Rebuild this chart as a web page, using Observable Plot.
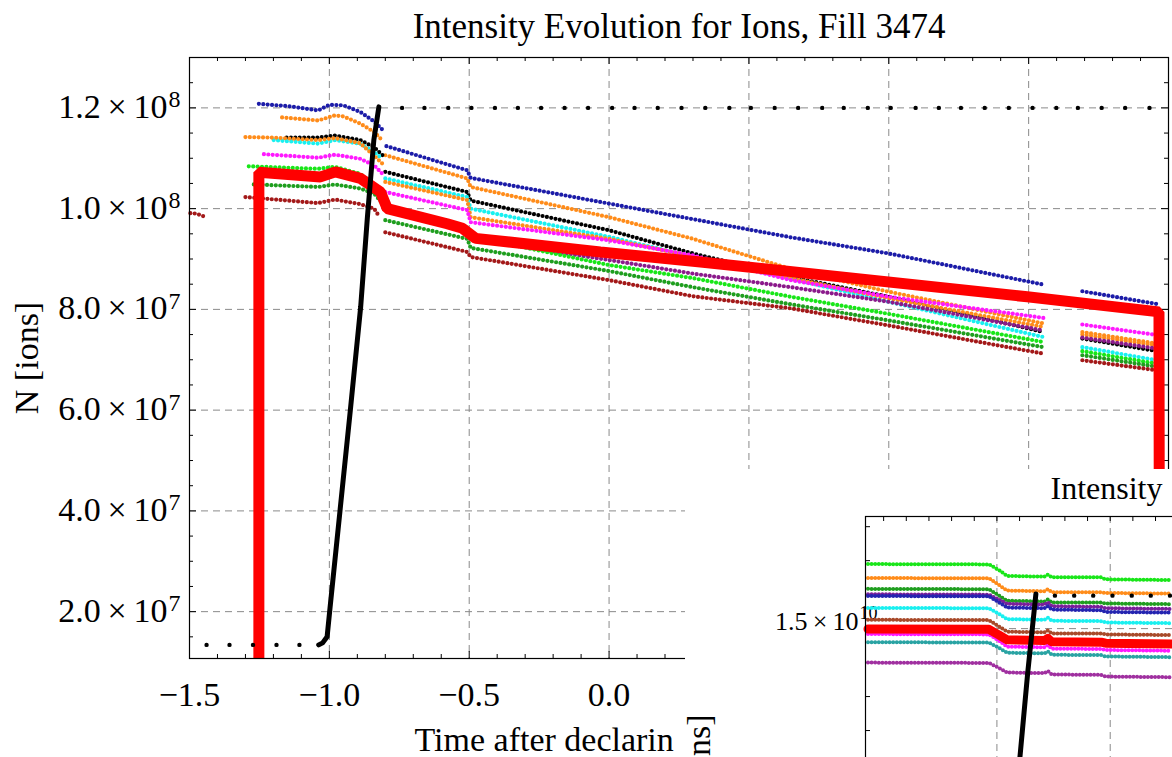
<!DOCTYPE html>
<html><head><meta charset="utf-8">
<script src="https://cdn.jsdelivr.net/npm/d3@7"></script>
<script src="https://cdn.jsdelivr.net/npm/@observablehq/plot@0.6"></script>
<style>
html,body{margin:0;padding:0;background:#fff;overflow:hidden;}
#wrap{position:relative;width:1172px;height:757px;overflow:hidden;background:#fff;}
#main{position:absolute;left:0;top:0;}
#panel{position:absolute;left:685px;top:469px;width:487px;height:288px;background:#fff;overflow:visible;}
#wrap svg{max-width:none !important;}
#panel svg{overflow:visible;}
</style></head><body>
<div id="wrap"><div id="main"></div><div id="panel"></div></div>
<script>
// ---------- MAIN CHART DATA (x: hours, y: ions in units of 1e7) ----------
const title = "Intensity Evolution for Ions, Fill 3474";
const yLabel = "N [ions]";
const xLabel = "Time after declarin";

const xLabelTicks = [-1.5, -1.0, -0.5, 0.0];
const xLabelText = ["\u22121.5", "\u22121.0", "\u22120.5", "0.0"];
const xMajor = [-1.5, -1.0, -0.5, 0.0, 0.5, 1.0, 1.5, 2.0];
const xMinor = [-1.4,-1.3,-1.2,-1.1,-0.9,-0.8,-0.7,-0.6,-0.4,-0.3,-0.2,-0.1,0.1,0.2,0.3,0.4,0.6,0.7,0.8,0.9,1.1,1.2,1.3,1.4,1.6,1.7,1.8,1.9];
const xGrid = [-1.0, -0.5, 0.0, 0.5, 1.0, 1.5];
const yMajor = [2, 4, 6, 8, 10, 12];
const yMinor = [1.5,2.5,3,3.5,4.5,5,5.5,6.5,7,7.5,8.5,9,9.5,10.5,11,11.5,12.5];
const yTickBase = ["2.0\u2009\u00d7\u200910","4.0\u2009\u00d7\u200910","6.0\u2009\u00d7\u200910","8.0\u2009\u00d7\u200910","1.0\u2009\u00d7\u200910","1.2\u2009\u00d7\u200910"];
const yTickExp = ["7","7","7","7","8","8"];

const blue = [[-1.252,12.08],[-1.14,12.03],[-1.04,11.95],[-1.0,12.06],[-0.95,12.05],[-0.89,11.92],[-0.84,11.73],[-0.807,11.55],null,[-0.796,11.24],[-0.507,10.76],[-0.495,10.61],[0.0,10.10],[0.32,9.77],[0.65,9.43],[1.0,9.11],[1.554,8.49],null,[1.692,8.36],[1.966,8.10]];
const orange1 = [[-1.169,11.81],[-1.04,11.75],[-0.98,11.85],[-0.95,11.83],[-0.89,11.69],[-0.84,11.52],[-0.817,11.39],null,[-0.80,11.06],[-0.507,10.60],[-0.495,10.43],[0.0,9.83],[0.3,9.40],[0.65,8.80],[1.0,8.35],[1.554,7.72],null,[1.692,7.55],[1.96,7.32]];
const blackDots = [[-1.153,11.41],[-1.04,11.41],[-0.98,11.45],[-0.89,11.36],[-0.84,11.22],[-0.81,11.06],null,[-0.80,10.73],[-0.507,10.33],[-0.495,10.16],[0.0,9.57],[0.3,9.11],[0.65,8.64],[1.0,8.25],[1.554,7.55],null,[1.692,7.42],[1.96,7.17]];
const cyan = [[-1.199,11.36],[-1.04,11.29],[-0.98,11.36],[-0.89,11.29],[-0.84,11.12],[-0.81,10.99],null,[-0.80,10.60],[-0.507,10.23],[-0.495,10.00],[0.0,9.44],[0.3,9.04],[0.65,8.61],[1.0,8.15],[1.554,7.45],null,[1.692,7.25],[1.96,6.99]];
const orange2 = [[-1.30,11.42],[-1.2,11.41],[-1.04,11.36],[-0.98,11.40],[-0.89,11.30],[-0.84,11.05],[-0.81,10.89],null,[-0.80,10.53],[-0.507,10.17],[-0.495,9.83],[0.0,9.40],[0.3,9.05],[0.65,8.62],[1.0,8.22],[1.554,7.65],null,[1.692,7.50],[1.96,7.28]];
const magenta = [[-1.234,11.08],[-1.04,11.01],[-0.98,11.07],[-0.89,10.99],[-0.84,10.86],[-0.81,10.69],null,[-0.80,10.33],[-0.507,9.97],[-0.495,9.73],[0.0,9.37],[0.3,9.07],[0.65,8.58],[1.0,8.25],[1.554,7.83],null,[1.692,7.70],[1.96,7.49]];
const purple = [[-0.495,9.40],[0.0,8.98],[0.3,8.71],[0.65,8.44],[1.0,8.15],[1.554,7.58],null,[1.692,7.44],[1.96,7.22]];
const lime = [[-1.288,10.84],[-1.04,10.79],[-0.98,10.83],[-0.89,10.69],[-0.84,10.45],[-0.81,10.30],null,[-0.80,10.0],[-0.507,9.62],[-0.495,9.45],[0.0,8.88],[0.3,8.62],[0.65,8.25],[1.0,7.91],[1.554,7.35],null,[1.692,7.17],[1.96,6.92]];
const dkgreen = [[-1.27,10.48],[-1.04,10.43],[-0.98,10.48],[-0.89,10.40],[-0.84,10.30],[-0.81,10.10],null,[-0.80,9.77],[-0.507,9.40],[-0.495,9.22],[0.0,8.76],[0.3,8.44],[0.65,8.10],[1.0,7.78],[1.554,7.25],null,[1.692,7.09],[1.96,6.86]];
const darkred = [[-1.497,9.91],[-1.475,9.90],[-1.445,9.84],null,[-1.30,10.23],[-1.04,10.11],[-0.98,10.18],[-0.89,10.09],[-0.84,10.0],[-0.82,9.83],null,[-0.80,9.53],[-0.507,9.14],[-0.495,9.04],[0.0,8.58],[0.3,8.26],[0.65,8.02],[1.0,7.68],[1.554,7.12],null,[1.692,6.99],[1.96,6.79]];
const redLine = [[-1.252,0.0],[-1.252,10.72],[-1.032,10.63],[-0.978,10.73],[-0.889,10.60],[-0.817,10.33],[-0.793,10.0],[-0.579,9.70],[-0.524,9.61],[-0.477,9.41],[-0.031,9.14],[0.327,8.94],[1.495,8.25],[1.966,7.95],[1.968,0.0]];
const ramp = [[-1.038,1.34],[-1.024,1.38],[-1.008,1.50],[-0.999,2.0],[-0.962,4.0],[-0.925,6.0],[-0.888,8.05],[-0.864,9.83],[-0.841,11.36],[-0.823,12.02]];
const lowDotsX = [-1.439,-1.357,-1.273,-1.189,-1.107];
const lowDotsY = [1.34,1.34,1.34,1.34,1.34];
const topDotsX = [-0.740,-0.660,-0.575,-0.492,-0.408,-0.326,-0.243,-0.159,-0.075,0.011,0.091,0.174,0.259,0.344,0.430,0.507,0.592,0.676,0.762,0.839,0.925,1.007,1.096,1.179,1.258,1.343,1.429,1.514,1.599,1.676,1.761,1.845,1.932];
const topDotsY = 12.0;

// ---------- INSET DATA (x: hours, y: units of 1e10) ----------
const insetTitle = "Intensity";
const insetYLabel = "ns]";
const insetX = [-1.569,-1.035,-0.99,-0.955,-0.79,-0.775,-0.758,-0.54,-0.52,-0.228];
const inLime    = [1.690,1.689,1.672,1.655,1.653,1.659,1.651,1.651,1.645,1.643];
const inOrange  = [1.649,1.648,1.628,1.612,1.610,1.616,1.607,1.607,1.605,1.603];
const inDkGreen = [1.617,1.616,1.597,1.582,1.580,1.586,1.577,1.577,1.574,1.572];
const inPurple2 = [1.601,1.600,1.585,1.573,1.571,1.577,1.566,1.564,1.560,1.558];
const inBlue    = [1.596,1.595,1.577,1.562,1.560,1.566,1.556,1.554,1.549,1.547];
const inCyan    = [1.561,1.560,1.543,1.528,1.526,1.532,1.523,1.522,1.518,1.516];
const inBrown   = [1.526,1.525,1.506,1.491,1.489,1.495,1.486,1.486,1.483,1.481];
const inRed     = [1.499,1.498,1.481,1.467,1.465,1.471,1.461,1.460,1.457,1.455];
const inMagenta = [1.484,1.483,1.464,1.447,1.445,1.451,1.441,1.440,1.437,1.435];
const inTeal    = [1.460,1.459,1.443,1.429,1.427,1.433,1.423,1.422,1.418,1.416];
const inPurpleL = [1.400,1.399,1.384,1.371,1.369,1.375,1.365,1.364,1.359,1.357];
const inRamp = [[-0.905,1.02],[-0.8985,1.121],[-0.8645,1.367],[-0.828,1.602]];
const inDotsX = [-0.744,-0.659,-0.575,-0.490,-0.405,-0.321,-0.236];
const inDotsY = 1.597;
const inXTicks = [-1.5,-1.4,-1.3,-1.2,-1.1,-1.0,-0.9,-0.8,-0.7,-0.6,-0.5,-0.4,-0.3,-0.2,-0.1];
const inXGrid = [-1.0,-0.5];
const inYTicks = [1.1,1.2,1.3,1.4,1.5,1.6,1.7,1.8];
const inYGrid = [1.5];
const inYLabelBase = ["1.5\u2009\u00d7\u200910"];
const inYLabelExp = ["10"];
const inYLabelAt = [1.5];

// ---------- RENDER ----------
const F = '"Liberation Serif","Times New Roman",Times,serif';
const W = 1172, H = 757, mL = 189, mT = 57, mR = 4, mB = 99;
const fW = W - mL - mR, fH = H - mT - mB;
const px = d => d ? d[0] : NaN, py = d => d ? d[1] : NaN;
const dotted = (data, color) => Plot.line(data, {x: px, y: py, stroke: color, strokeWidth: 4.2, strokeDasharray: "0 4.4", strokeLinecap: "round", strokeLinejoin: "round"});
const grid = {stroke: "#8a8a8a", strokeWidth: 1, strokeDasharray: "7,5"};

const main = Plot.plot({
  width: W, height: H, marginLeft: mL, marginTop: mT, marginRight: mR, marginBottom: mB,
  style: {background: "white", fontFamily: F, maxWidth: "none"},
  x: {domain: [-1.5, 2.0], axis: null},
  y: {domain: [1.07, 13.0], axis: null},
  marks: [
    Plot.ruleX(xGrid, {x: d => d, ...grid}),
    Plot.ruleY(yMajor, {y: d => d, ...grid}),
    Plot.ruleX(xMajor, {x: d => d, insetTop: fH - 7, stroke: "black"}),
    Plot.ruleX(xMajor, {x: d => d, insetBottom: fH - 7, stroke: "black"}),
    Plot.ruleX(xMinor, {x: d => d, insetTop: fH - 4, stroke: "black"}),
    Plot.ruleX(xMinor, {x: d => d, insetBottom: fH - 4, stroke: "black"}),
    Plot.ruleY(yMajor, {y: d => d, insetRight: fW - 7, stroke: "black"}),
    Plot.ruleY(yMajor, {y: d => d, insetLeft: fW - 7, stroke: "black"}),
    Plot.ruleY(yMinor, {y: d => d, insetRight: fW - 4, stroke: "black"}),
    Plot.ruleY(yMinor, {y: d => d, insetLeft: fW - 4, stroke: "black"}),
    dotted(blue, "#1c1ca8"),
    dotted(orange1, "#ff8c1a"),
    dotted(blackDots, "#000000"),
    dotted(cyan, "#19f0f0"),
    dotted(orange2, "#ff8c1a"),
    dotted(magenta, "#ff19ff"),
    dotted(purple, "#8b1a8b"),
    dotted(lime, "#19e619"),
    dotted(dkgreen, "#1f9e1f"),
    dotted(darkred, "#a31919"),
    Plot.line(redLine, {x: px, y: py, stroke: "#ff0000", strokeWidth: 11, strokeLinejoin: "miter", strokeLinecap: "butt", clip: true}),
    Plot.line(ramp, {x: px, y: py, stroke: "#000", strokeWidth: 5, strokeLinecap: "round"}),
    Plot.dot(lowDotsX, {x: d => d, y: (d, i) => lowDotsY[i], r: 2.2, fill: "#000", stroke: null}),
    Plot.dot(topDotsX, {x: d => d, y: () => topDotsY, r: 2.2, fill: "#000", stroke: null}),
    Plot.frame({stroke: "black", strokeWidth: 1.2}),
    Plot.text([title], {text: d => d, frameAnchor: "top", dy: -20, lineAnchor: "bottom", fontSize: 35, fontFamily: F, fill: "black"}),
    Plot.text(yMajor, {y: d => d, text: (d, i) => yTickBase[i], frameAnchor: "left", textAnchor: "end", lineAnchor: "bottom", dx: -22, dy: 10, fontSize: 34, fontFamily: F, fill: "black"}),
    Plot.text(yMajor, {y: d => d, text: (d, i) => yTickExp[i], frameAnchor: "left", textAnchor: "start", lineAnchor: "bottom", dx: -21, dy: -0.5, fontSize: 24, fontFamily: F, fill: "black"}),
    Plot.text(xLabelTicks, {x: d => d, text: (d, i) => xLabelText[i], frameAnchor: "bottom", textAnchor: "middle", lineAnchor: "bottom", dy: 47, fontSize: 34, fontFamily: F, fill: "black"}),
    Plot.text([xLabel], {text: d => d, frameAnchor: "bottom-left", textAnchor: "start", lineAnchor: "bottom", dx: 225, dy: 92, fontSize: 34, fontFamily: F, fill: "black"}),
    Plot.text([yLabel], {text: d => d, frameAnchor: "left", rotate: -90, textAnchor: "middle", lineAnchor: "bottom", dx: 37 - mL, fontSize: 34, fontFamily: F, fill: "black"})
  ]
});
document.getElementById("main").appendChild(main);

// ---------- INSET ----------
const iW = 600, iH = 340, iL = 180, iT = 47, iR = 62, iB = 11;
const ifW = iW - iL - iR, ifH = iH - iT - iB;
const rows = ys => insetX.map((x, i) => [x, ys[i]]);
const idot = (ys, color) => Plot.line(rows(ys), {x: px, y: py, stroke: color, strokeWidth: 4, strokeDasharray: "0 3.6", strokeLinecap: "round"});
const inset = Plot.plot({
  width: iW, height: iH, marginLeft: iL, marginTop: iT, marginRight: iR, marginBottom: iB,
  style: {background: "white", fontFamily: F, maxWidth: "none", overflow: "visible"},
  x: {domain: [-1.58, 0.0], axis: null},
  y: {domain: [1.0, 1.83], axis: null},
  marks: [
    Plot.ruleX(inXGrid, {x: d => d, ...grid}),
    Plot.ruleY(inYGrid, {y: d => d, ...grid}),
    Plot.ruleX(inXTicks, {x: d => d, insetBottom: ifH - 5, stroke: "black"}),
    Plot.ruleY(inYTicks, {y: d => d, insetRight: ifW - 5, stroke: "black"}),
    Plot.text(inYLabelAt, {y: d => d, text: (d, i) => inYLabelBase[i], frameAnchor: "left", textAnchor: "end", lineAnchor: "bottom", dx: -7, dy: 1, fontSize: 26, fontFamily: F, fill: "black"}),
    Plot.text(inYLabelAt, {y: d => d, text: (d, i) => inYLabelExp[i], frameAnchor: "left", textAnchor: "start", lineAnchor: "bottom", dx: -6, dy: -10, fontSize: 18, fontFamily: F, fill: "black"}),
    idot(inLime, "#19e619"),
    idot(inOrange, "#ff8c1a"),
    idot(inDkGreen, "#1f9e1f"),
    idot(inPurple2, "#7a1f9a"),
    idot(inBlue, "#2424b0"),
    idot(inCyan, "#19f0f0"),
    idot(inBrown, "#a84a2a"),
    idot(inMagenta, "#ff19ff"),
    Plot.line(rows(inRed), {x: px, y: py, stroke: "#ff0000", strokeWidth: 9}),
    idot(inTeal, "#29a3a3"),
    idot(inPurpleL, "#a030a0"),
    Plot.line(inRamp, {x: px, y: py, stroke: "#000", strokeWidth: 5, strokeLinecap: "round", clip: true}),
    Plot.dot(inDotsX, {x: d => d, y: () => inDotsY, r: 2.2, fill: "#000", stroke: null}),
    Plot.frame({stroke: "black", strokeWidth: 1.2}),
    Plot.text([insetTitle], {text: d => d, frameAnchor: "top-left", textAnchor: "start", lineAnchor: "bottom", dx: 185, dy: -18, fontSize: 32, fontFamily: F, fill: "black"}),
    Plot.text([insetYLabel], {text: d => d, frameAnchor: "top-left", rotate: -90, textAnchor: "end", lineAnchor: "bottom", dx: 709 - 685 - iL, dy: 714 - 469 - iT, fontSize: 34, fontFamily: F, fill: "black"})
  ]
});
document.getElementById("panel").appendChild(inset);
</script></body></html>
